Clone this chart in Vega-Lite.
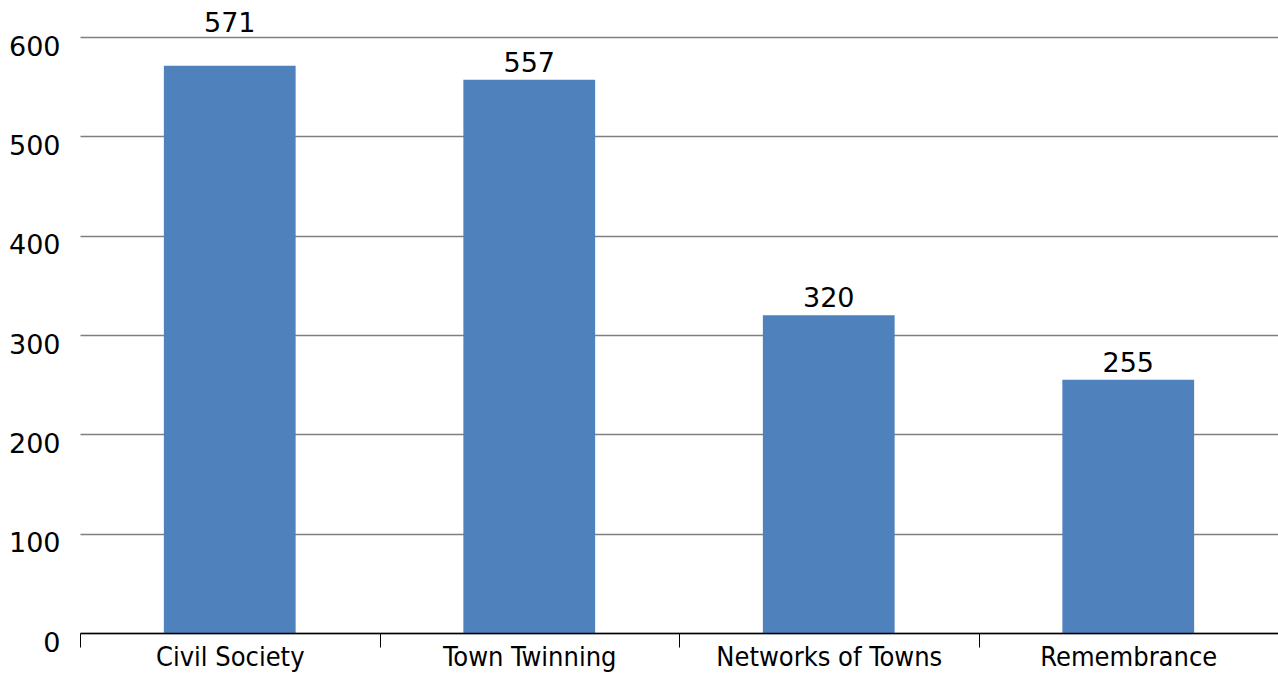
{
  "$schema": "https://vega.github.io/schema/vega-lite/v6.json",
  "width": 1198,
  "height": 596,
  "padding": {"left": 80, "top": 37, "right": 0, "bottom": 44},
  "autosize": {"type": "none"},
  "background": "white",
  "config": {"view": {"stroke": null}, "font": "DejaVu Sans"},
  "data": {"values": [
    {"category": "Civil Society", "value": 571},
    {"category": "Town Twinning", "value": 557},
    {"category": "Networks of Towns", "value": 320},
    {"category": "Remembrance", "value": 255}
  ]},
  "encoding": {
    "x": {"field": "category", "type": "nominal", "sort": null,
      "scale": {"paddingInner": 0, "paddingOuter": 0},
      "axis": {"title": null, "labelAngle": 0, "labelFontSize": 27, "labelColor": "#000000", "labelFont": "DejaVu Sans Condensed", "labelLimit": 0,
        "domainColor": "#000000", "domainWidth": 1.5, "tickColor": "#000000", "tickSize": 14, "tickWidth": 1, "tickBand": "extent", "labelPadding": -3, "grid": false, "zindex": 1}},
    "y": {"field": "value", "type": "quantitative",
      "scale": {"domain": [0, 600], "nice": false},
      "axis": {"title": null, "values": [0, 100, 200, 300, 400, 500, 600], "labelFontSize": 27, "labelColor": "#000000", "labelFont": "DejaVu Sans", "labelOffset": 10,
        "domain": false, "ticks": false, "labelPadding": 20, "gridColor": "#7f7f7f", "gridWidth": 1.5, "gridOpacity": 1}}
  },
  "layer": [
    {"mark": {"type": "bar", "color": "#4F81BD", "width": {"band": 0.44}}},
    {"transform": [{"filter": "datum.value < 560"}],
     "mark": {"type": "text", "dy": -8, "baseline": "alphabetic", "fontSize": 27, "font": "DejaVu Sans", "color": "#000000"},
     "encoding": {"text": {"field": "value", "type": "quantitative"}}},
    {"transform": [{"filter": "datum.value >= 560"}],
     "mark": {"type": "text", "dy": -34, "baseline": "alphabetic", "fontSize": 27, "font": "DejaVu Sans", "color": "#000000"},
     "encoding": {"text": {"field": "value", "type": "quantitative"}}}
  ]
}
